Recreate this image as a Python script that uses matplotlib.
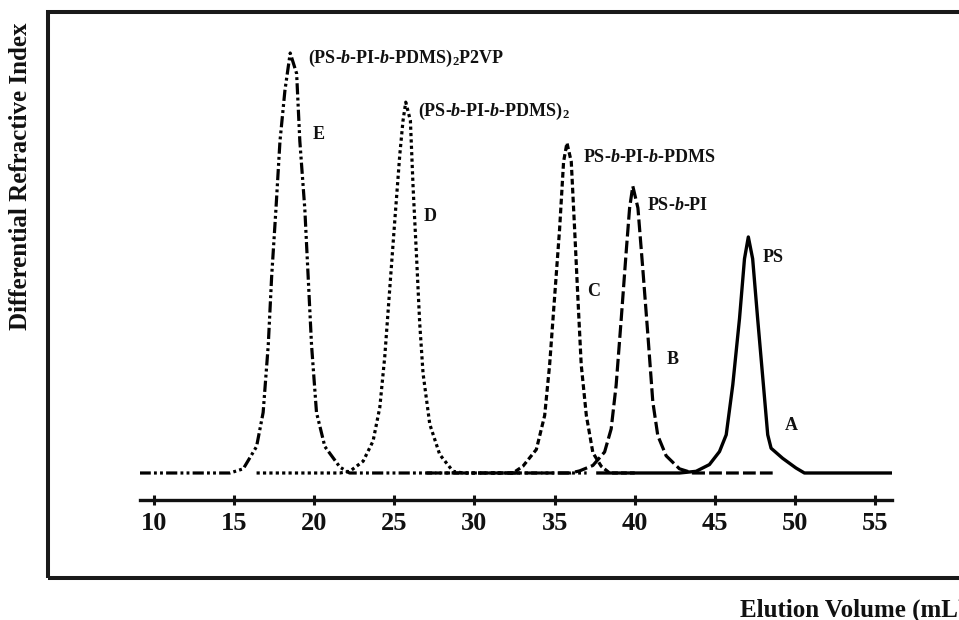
import matplotlib
matplotlib.use("Agg")
import matplotlib.pyplot as plt
from matplotlib.patches import Rectangle

plt.rcParams['font.family'] = ['Liberation Serif', 'DejaVu Serif']
plt.rcParams['font.weight'] = 'bold'
plt.rcParams['mathtext.fontset'] = 'custom'
plt.rcParams['mathtext.rm'] = 'Liberation Serif:bold'
plt.rcParams['mathtext.it'] = 'Liberation Serif:bold:italic'
plt.rcParams['mathtext.bf'] = 'Liberation Serif:bold'

# SEC traces (elution volume in mL, RI signal in arbitrary units)
vol_A = [37.7, 42.8, 43.83, 44.66, 45.29, 45.71, 46.12, 46.54, 46.85, 47.09,
         47.36, 47.67, 48.03, 48.30, 48.51, 49.23, 50.06, 50.59, 56.0]
ri_A = [0, 0, 0.4, 2.0, 5.1, 9.1, 21.0, 36.8, 51.0, 56.2,
        51.0, 36.8, 21.0, 9.1, 5.9, 3.5, 1.2, 0, 0]

vol_B = [31.0, 36.0, 36.56, 37.39, 38.12, 38.53, 38.84, 39.16, 39.47, 39.68,
         39.88, 40.2, 40.5, 40.82, 41.13, 41.44, 41.96, 42.79, 43.62, 48.8]
ri_B = [0, 0, 0.5, 1.8, 5.0, 10.5, 20.9, 36.8, 52.8, 63.1,
        68.3, 63.1, 48.8, 32.9, 16.9, 8.9, 4.1, 1.0, 0, 0]

vol_C = [27.0, 32.4, 33.02, 33.86, 34.38, 34.69, 35.0, 35.31, 35.56, 35.77,
         36.04, 36.25, 36.45, 36.66, 36.98, 37.39, 37.91, 38.43, 40.0]
ri_C = [0, 0, 1.6, 5.6, 13.7, 25.8, 41.9, 58.0, 74.1, 78.6,
        74.1, 58.0, 41.9, 25.8, 13.7, 4.8, 1.6, 0, 0]

vol_D = [16.4, 21.6, 22.22, 23.05, 23.67, 24.09, 24.40, 24.71, 25.02, 25.34, 25.54,
         25.71, 26.0, 26.17, 26.38, 26.58, 26.79, 27.21, 27.83, 28.66, 29.3, 33.0]
ri_D = [0, 0, 0.4, 2.8, 7.6, 15.6, 27.7, 43.8, 59.8, 75.9, 83.9,
        88.3, 83.9, 67.9, 51.8, 35.7, 23.7, 11.6, 4.4, 0.4, 0, 0]

vol_E = [9.1, 14.74, 15.57, 16.40, 16.81, 17.13, 17.34, 17.61, 17.86, 18.17,
         18.5, 18.90, 19.10, 19.41, 19.62, 19.83, 20.14, 20.66, 21.60, 22.2, 37.0]
ri_E = [0, 0, 1.0, 6.3, 14.4, 30.5, 46.7, 62.9, 79.0, 91.1,
        100, 95.1, 79.0, 62.9, 46.7, 30.5, 14.4, 6.3, 1.4, 0, 0]

letters = ['A', 'B', 'C', 'D', 'E']
names = ['PS',
         r'PS-$\it{b}$-PI',
         r'PS-$\it{b}$-PI-$\it{b}$-PDMS',
         r'(PS-$\it{b}$-PI-$\it{b}$-PDMS)$_{\mathrm{2}}$',
         r'(PS-$\it{b}$-PI-$\it{b}$-PDMS)$_{\mathrm{2}}$P2VP']
ticks = [10, 15, 20, 25, 30, 35, 40, 45, 50, 55]

fig = plt.figure(figsize=(9.59, 6.2), dpi=100)
ax = fig.add_axes([0.146, 0.19355, 0.7842, 0.7742])
ax.set_xlim(9.126, 56.06)
ax.set_ylim(-6.43, 107.86)

lw = 2.3
ax.plot(vol_A, ri_A, color='black', lw=2.4, solid_joinstyle='round')
ax.plot(vol_B, ri_B, color='black', lw=lw, linestyle=(0, (4.0, 1.3)))
ax.plot(vol_C, ri_C, color='black', lw=lw, linestyle=(0, (1.8, 1.0)))
ax.plot(vol_D, ri_D, color='black', lw=lw, linestyle=(0, (1.0, 1.0)))
ax.plot(vol_E, ri_E, color='black', lw=lw,
        linestyle=(0, (3.5, 1.0, 0.9, 1.0, 0.9, 1.0)))

# peak names and trace letters
name_xy = [(48.01, 51.2), (40.77, 63.8), (36.78, 75.2), (26.48, 86.2), (19.61, 98.8)]
letter_xy = [(49.38, 11.4), (42.02, 27.1), (37.03, 43.3), (26.85, 61.0), (19.92, 80.5)]
for nm, (x, y) in zip(names, name_xy):
    ax.text(x, y, nm, fontsize=13, fontweight='bold', ha='left', va='center',
            color='#111111')
for lt, (x, y) in zip(letters, letter_xy):
    ax.text(x, y, lt, fontsize=13, fontweight='bold', ha='left', va='center',
            color='#111111')

for s in ['left', 'top', 'right']:
    ax.spines[s].set_visible(False)
ax.spines['bottom'].set_linewidth(2.4)
ax.spines['bottom'].set_color('#111111')
ax.set_yticks([])
ax.set_xticks(ticks)
ax.set_xticklabels([str(t) for t in ticks])
ax.tick_params(axis='x', direction='inout', length=7.5, width=2.2, pad=5,
               labelsize=19, colors='#111111')
for lab in ax.get_xticklabels():
    lab.set_fontweight('bold')

# outer box around the plot
fig.add_artist(Rectangle((0.05, 0.0677), 1.0, 0.913, transform=fig.transFigure,
                         fill=False, lw=2.9, edgecolor='#1a1a1a'))

fig.text(0.0209, 0.716, 'Differential Refractive Index', rotation=90,
         fontsize=18, fontweight='bold', ha='center', va='center', color='#111111')
fig.text(0.7716, 0.0048, 'Elution Volume (mL)', fontsize=18, fontweight='bold',
         ha='left', va='baseline', color='#111111')

fig.savefig('out.png', dpi=100)
